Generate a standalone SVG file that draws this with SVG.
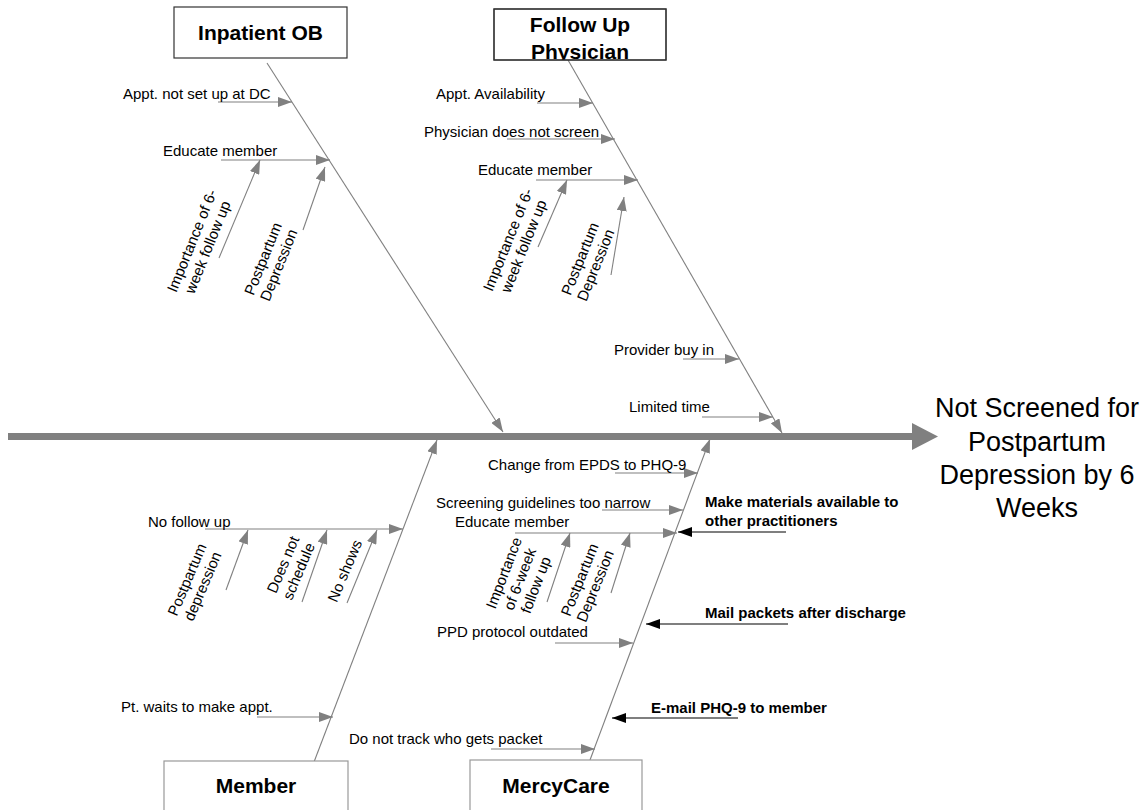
<svg xmlns="http://www.w3.org/2000/svg" width="1147" height="810" viewBox="0 0 1147 810">
<style>
text{font-family:"Liberation Sans",Arial,sans-serif;fill:#000}
.s{font-size:15px}
.b{font-size:15px;font-weight:bold}
.t{font-size:21px;font-weight:bold;text-anchor:middle}
.r{font-size:15px;text-anchor:middle}
.bone{stroke:#808080;stroke-width:1.3;fill:none}
.g{stroke:#808080;stroke-width:1.1;fill:none;marker-end:url(#ag)}
.k{stroke:#000;stroke-width:1.1;fill:none;marker-end:url(#ak)}
.boxT{fill:#fff;stroke:#333;stroke-width:1.2}
.boxB{fill:#fff;stroke:#999;stroke-width:1.2}
</style>
<defs>
<marker id="ag" markerUnits="userSpaceOnUse" markerWidth="14" markerHeight="10" refX="14" refY="5" orient="auto"><path d="M0,0 L14,5 L0,10 z" fill="#808080"/></marker>
<marker id="ak" markerUnits="userSpaceOnUse" markerWidth="14" markerHeight="10" refX="14" refY="5" orient="auto"><path d="M0,0 L14,5 L0,10 z" fill="#000"/></marker>
<clipPath id="clipFU"><rect x="494" y="9" width="172" height="51"/></clipPath>
</defs>
<rect width="1147" height="810" fill="#fff"/>
<g id="connectors">
<line x1="8" y1="436.5" x2="913" y2="436.5" stroke="#808080" stroke-width="7"/>
<polygon points="912,423 938,436.5 912,450" fill="#808080"/>
<line class="bone g" x1="267" y1="63" x2="503" y2="432"/>
<line class="bone g" x1="568" y1="60" x2="782" y2="433"/>
<line class="bone g" x1="314" y1="762" x2="437" y2="440"/>
<line class="bone g" x1="590" y1="760" x2="710" y2="439"/>
<line class="g" x1="218" y1="102" x2="292" y2="102"/>
<line class="g" x1="221" y1="160" x2="330" y2="160"/>
<line class="g" x1="219" y1="258" x2="260" y2="160"/>
<line class="g" x1="303" y1="230" x2="325" y2="167"/>
<line class="g" x1="537" y1="103" x2="593" y2="103"/>
<line class="g" x1="507" y1="139" x2="615" y2="139"/>
<line class="g" x1="536" y1="180" x2="638" y2="180"/>
<line class="g" x1="538" y1="247" x2="567" y2="180"/>
<line class="g" x1="611" y1="275" x2="624" y2="197"/>
<line class="g" x1="683" y1="359" x2="739" y2="359"/>
<line class="g" x1="702" y1="417" x2="773" y2="417"/>
<line class="g" x1="205" y1="529" x2="403" y2="529"/>
<line class="g" x1="226" y1="590" x2="248" y2="530"/>
<line class="g" x1="302" y1="602" x2="327" y2="530"/>
<line class="g" x1="347" y1="603" x2="377" y2="530"/>
<line class="g" x1="257" y1="717" x2="333" y2="717"/>
<line class="g" x1="615" y1="473" x2="698" y2="473"/>
<line class="g" x1="602" y1="510" x2="683" y2="510"/>
<line class="g" x1="515" y1="533" x2="677" y2="533"/>
<line class="g" x1="547" y1="602" x2="570" y2="533"/>
<line class="g" x1="611" y1="593" x2="630" y2="533"/>
<line class="g" x1="555" y1="643" x2="633" y2="643"/>
<line class="g" x1="491" y1="749" x2="595" y2="749"/>
<line class="k" x1="786" y1="532" x2="678" y2="532"/>
<line class="k" x1="788" y1="624" x2="646" y2="624"/>
<line class="k" x1="738" y1="718" x2="612" y2="718"/>
</g>
<g id="inpatient-ob">
<rect class="boxT" x="174" y="7" width="173" height="51"/>
<text class="t" x="260.5" y="40">Inpatient OB</text>
<text class="s" x="123" y="99">Appt. not set up at DC</text>
<text class="s" x="163" y="156">Educate member</text>
<text class="r" transform="translate(200,244) rotate(-68)"><tspan x="0" y="-3.5">Importance of 6-</tspan><tspan x="0" y="13.5">week follow up</tspan></text>
<text class="r" transform="translate(271,262) rotate(-68)"><tspan x="0" y="-3.5">Postpartum</tspan><tspan x="0" y="13.5">Depression</tspan></text>
</g>
<g id="follow-up-physician">
<rect class="boxT" x="494" y="9" width="172" height="51"/>
<g clip-path="url(#clipFU)">
<text class="t" x="580" y="32">Follow Up</text>
<text class="t" x="580" y="59">Physician</text>
</g>
<rect x="494" y="9" width="172" height="51" fill="none" stroke="#333" stroke-width="1.2"/>
<text class="s" x="436" y="99">Appt. Availability</text>
<text class="s" x="424" y="137">Physician does not screen</text>
<text class="s" x="478" y="175">Educate member</text>
<text class="r" transform="translate(516,243) rotate(-68)"><tspan x="0" y="-3.5">Importance of 6-</tspan><tspan x="0" y="13.5">week follow up</tspan></text>
<text class="r" transform="translate(588,262) rotate(-68)"><tspan x="0" y="-3.5">Postpartum</tspan><tspan x="0" y="13.5">Depression</tspan></text>
<text class="s" x="614" y="355">Provider buy in</text>
<text class="s" x="629" y="412">Limited time</text>
</g>
<g id="member">
<rect class="boxB" x="164" y="761" width="184" height="60"/>
<text class="t" x="256" y="793">Member</text>
<text class="s" x="148" y="527">No follow up</text>
<text class="r" transform="translate(195,583) rotate(-67)"><tspan x="0" y="-3.5">Postpartum</tspan><tspan x="0" y="13.5">depression</tspan></text>
<text class="r" transform="translate(291,568) rotate(-67)"><tspan x="0" y="-3.5">Does not</tspan><tspan x="0" y="13.5">schedule</tspan></text>
<text class="r" transform="translate(345,571) rotate(-67)"><tspan x="0" y="5">No shows</tspan></text>
<text class="s" x="121" y="712">Pt. waits to make appt.</text>
</g>
<g id="mercycare">
<rect class="boxB" x="470" y="760" width="172" height="60"/>
<text class="t" x="556" y="793">MercyCare</text>
<text class="s" x="488" y="470">Change from EPDS to PHQ-9</text>
<text class="s" x="436" y="508">Screening guidelines too narrow</text>
<text class="s" x="455" y="527">Educate member</text>
<text class="r" transform="translate(520,579) rotate(-69)"><tspan x="0" y="-12">Importance</tspan><tspan x="0" y="5">of 6-week</tspan><tspan x="0" y="22">follow up</tspan></text>
<text class="r" transform="translate(587.5,583) rotate(-68)"><tspan x="0" y="-3.5">Postpartum</tspan><tspan x="0" y="13.5">Depression</tspan></text>
<text class="s" x="437" y="637">PPD protocol outdated</text>
<text class="s" x="349" y="744">Do not track who gets packet</text>
</g>
<g id="actions">
<text class="b" x="705" y="507">Make materials available to</text>
<text class="b" x="705" y="526">other practitioners</text>
<text class="b" x="705" y="618">Mail packets after discharge</text>
<text class="b" x="651" y="713">E-mail PHQ-9 to member</text>
</g>
<g id="effect">
<text style="font-size:27px;text-anchor:middle"><tspan x="1037" y="417">Not Screened for</tspan><tspan x="1037" y="451">Postpartum</tspan><tspan x="1037" y="484">Depression by 6</tspan><tspan x="1037" y="517">Weeks</tspan></text>
</g>
</svg>
